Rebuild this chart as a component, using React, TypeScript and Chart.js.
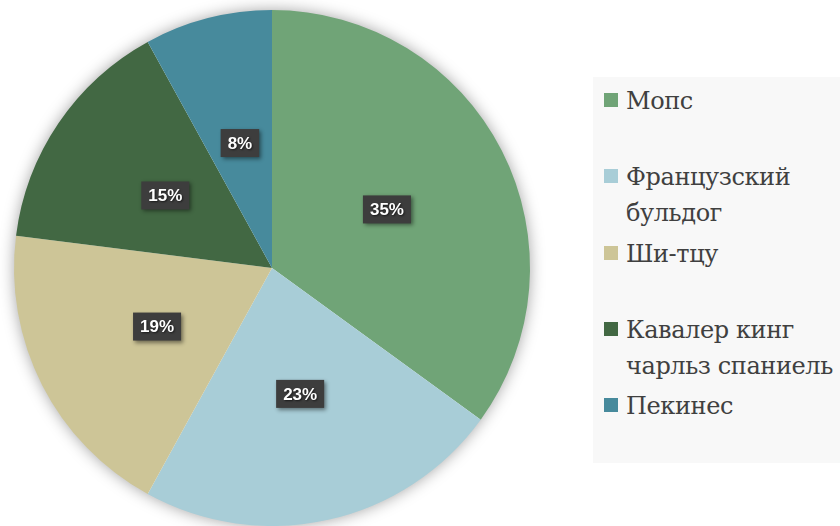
import React, { useEffect, useRef } from "react";
import { Chart, registerables } from "chart.js";

Chart.register(...registerables);

const categories: (string | string[])[] = [
  "Мопс",
  ["Французский", "бульдог"],
  "Ши-тцу",
  ["Кавалер кинг", "чарльз спаниель"],
  "Пекинес",
];
const shares: number[] = [35, 23, 19, 15, 8];
const sliceColors: string[] = ["#70a477", "#a8cdd7", "#cdc597", "#426843", "#478a9c"];

const LABEL_FONT = "bold 17px Arial";
const LEGEND_FAMILY = "'DejaVu Serif', 'Liberation Serif', serif";

const pieShadow = {
  id: "pieShadow",
  beforeDatasetsDraw(chart: any) {
    const meta = chart.getDatasetMeta(0);
    const el = meta.data[0];
    if (!el) return;
    const ctx = chart.ctx;
    ctx.save();
    ctx.shadowColor = "rgba(0,0,0,0.4)";
    ctx.shadowBlur = 16;
    ctx.fillStyle = "#ffffff";
    ctx.beginPath();
    ctx.arc(el.x, el.y, el.outerRadius - 1, 0, Math.PI * 2);
    ctx.fill();
    ctx.restore();
  },
};

const pctLabels = {
  id: "pctLabels",
  afterDatasetsDraw(chart: any) {
    const ctx = chart.ctx;
    const vals: number[] = chart.data.datasets[0].data as number[];
    const total = vals.reduce((a, b) => a + b, 0);
    const meta = chart.getDatasetMeta(0);
    meta.data.forEach((el: any, i: number) => {
      const p = el.tooltipPosition();
      const txt = Math.round((vals[i] / total) * 100) + "%";
      ctx.save();
      ctx.font = LABEL_FONT;
      ctx.textAlign = "center";
      ctx.textBaseline = "middle";
      const w = ctx.measureText(txt).width + 14;
      const h = 28;
      ctx.shadowColor = "rgba(0,0,0,0.45)";
      ctx.shadowBlur = 4;
      ctx.shadowOffsetX = 2;
      ctx.shadowOffsetY = 2;
      ctx.fillStyle = "#3d3d3d";
      ctx.fillRect(p.x - w / 2, p.y - h / 2, w, h);
      ctx.shadowColor = "rgba(0,0,0,0.6)";
      ctx.shadowBlur = 2;
      ctx.shadowOffsetX = 1;
      ctx.shadowOffsetY = 1;
      ctx.fillStyle = "#ffffff";
      ctx.fillText(txt, p.x, p.y + 1);
      ctx.restore();
    });
  },
};

function Legend() {
  const firstY = 100;
  const pitch = 76.3;
  const lineH = 36;
  return (
    <div
      style={{
        position: "absolute",
        left: 593,
        top: 77,
        width: 247,
        height: 386,
        background: "#f8f8f8",
        overflow: "hidden",
        fontFamily: LEGEND_FAMILY,
      }}
    >
      {categories.map((lab, i) => {
        const lines = Array.isArray(lab) ? lab : [lab];
        const y0 = firstY + i * pitch - 77;
        return (
          <React.Fragment key={i}>
            <div
              style={{
                position: "absolute",
                left: 604 - 593,
                top: y0 - 7,
                width: 14,
                height: 14,
                background: sliceColors[i],
              }}
            />
            <div
              style={{
                position: "absolute",
                left: 626 - 593,
                top: y0 - lineH / 2 + 1,
                fontFamily: LEGEND_FAMILY,
                fontSize: 24,
                letterSpacing: "-0.4px",
                lineHeight: lineH + "px",
                color: "#404040",
                whiteSpace: "nowrap",
              }}
            >
              {lines.map((ln, j) => (
                <div key={j}>{ln}</div>
              ))}
            </div>
          </React.Fragment>
        );
      })}
    </div>
  );
}

export default function App() {
  const ref = useRef<HTMLCanvasElement | null>(null);
  useEffect(() => {
    if (!ref.current) return;
    const chart = new Chart(ref.current, {
      type: "pie",
      data: {
        labels: categories as any,
        datasets: [{ data: shares, backgroundColor: sliceColors, borderWidth: 0 }],
      },
      options: {
        animation: false,
        responsive: false,
        layout: { padding: { left: 14, top: 10, right: 310, bottom: 0 } },
        plugins: { legend: { display: false }, tooltip: { enabled: false } },
      },
      plugins: [pieShadow, pctLabels],
    });
    return () => chart.destroy();
  }, []);
  return (
    <div style={{ position: "absolute", left: 0, top: 0, width: 840, height: 526, background: "#ffffff", overflow: "hidden" }}>
      <canvas ref={ref} width={840} height={526} style={{ width: 840, height: 526, display: "block" }} />
      <Legend />
    </div>
  );
}
